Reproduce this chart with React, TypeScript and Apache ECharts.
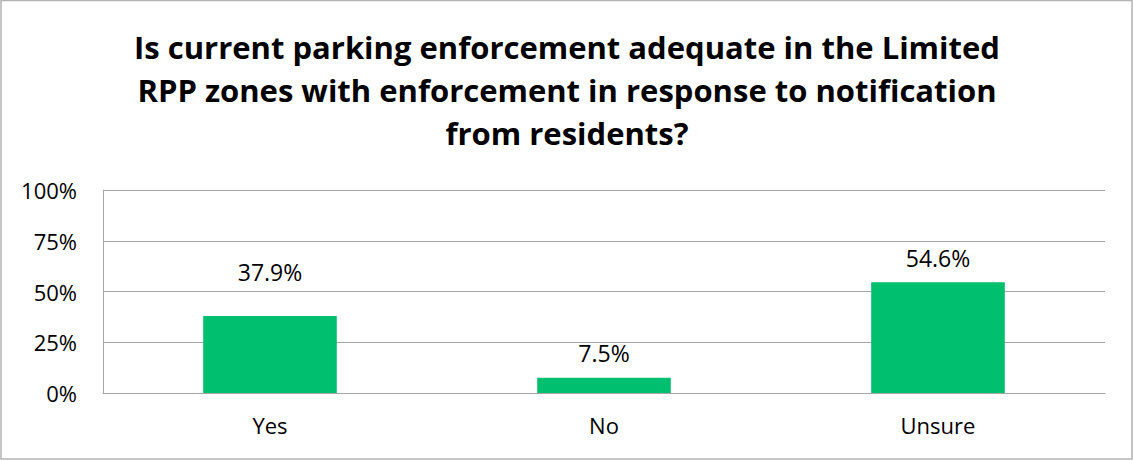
import React, { useEffect, useRef } from "react";
import * as echarts from "echarts";

const titleLines = [
  "Is current parking enforcement adequate in the Limited",
  "RPP zones with enforcement in response to notification",
  "from residents?",
];
const categories = ["Yes", "No", "Unsure"];
const values = [37.9, 7.5, 54.6];
const labelDistances = [33, 13, 13];
const yTicks = [0, 25, 50, 75, 100];

export default function App() {
  const ref = useRef<HTMLDivElement>(null);
  useEffect(() => {
    document.body.style.margin = "0";
    const chart = echarts.init(ref.current!, null, { renderer: "svg" });
    const font = "'Open Sans', sans-serif";
    chart.setOption({
      animation: false,
      backgroundColor: "#ffffff",
      graphic: [
        {
          type: "rect",
          shape: { x: 1, y: 0.5, width: 1131, height: 458.5 },
          style: { fill: "none", stroke: "#b3b3b3", lineWidth: 1.5 },
          silent: true,
        },
        {
          type: "text",
          x: 567,
          y: 25,
          silent: true,
          style: {
            text: titleLines.join("\n"),
            align: "center",
            verticalAlign: "top",
            fontFamily: font,
            fontWeight: "bold",
            fontSize: 31,
            lineHeight: 43,
            fill: "#000000",
          },
        },
      ],
      grid: { left: 103, right: 28, top: 190, bottom: 67, containLabel: false },
      xAxis: {
        type: "category",
        data: categories,
        axisLine: { show: true, lineStyle: { color: "#a6a6a6", width: 1 } },
        axisTick: { show: false },
        axisLabel: {
          fontFamily: font,
          fontSize: 22,
          color: "#000000",
          margin: 21,
        },
      },
      yAxis: {
        type: "value",
        min: yTicks[0],
        max: yTicks[yTicks.length - 1],
        interval: 25,
        axisLine: { show: true, lineStyle: { color: "#a6a6a6", width: 1 } },
        axisTick: { show: false },
        splitLine: { show: true, lineStyle: { color: "#a6a6a6", width: 1 } },
        axisLabel: {
          fontFamily: font,
          fontSize: 22,
          color: "#000000",
          margin: 26,
          formatter: (v: number) => v + "%",
        },
      },
      series: [
        {
          type: "bar",
          barWidth: "40%",
          data: values.map((v, i) => ({
            value: v,
            label: { distance: labelDistances[i] },
          })),
          itemStyle: { color: "#00bf6f" },
          label: {
            show: true,
            position: "top",
            fontFamily: font,
            fontSize: 23,
            color: "#000000",
            formatter: (p: any) => p.value.toFixed(1) + "%",
          },
        },
      ],
    });
    return () => chart.dispose();
  }, []);
  return <div ref={ref} style={{ width: 1133, height: 460 }} />;
}
